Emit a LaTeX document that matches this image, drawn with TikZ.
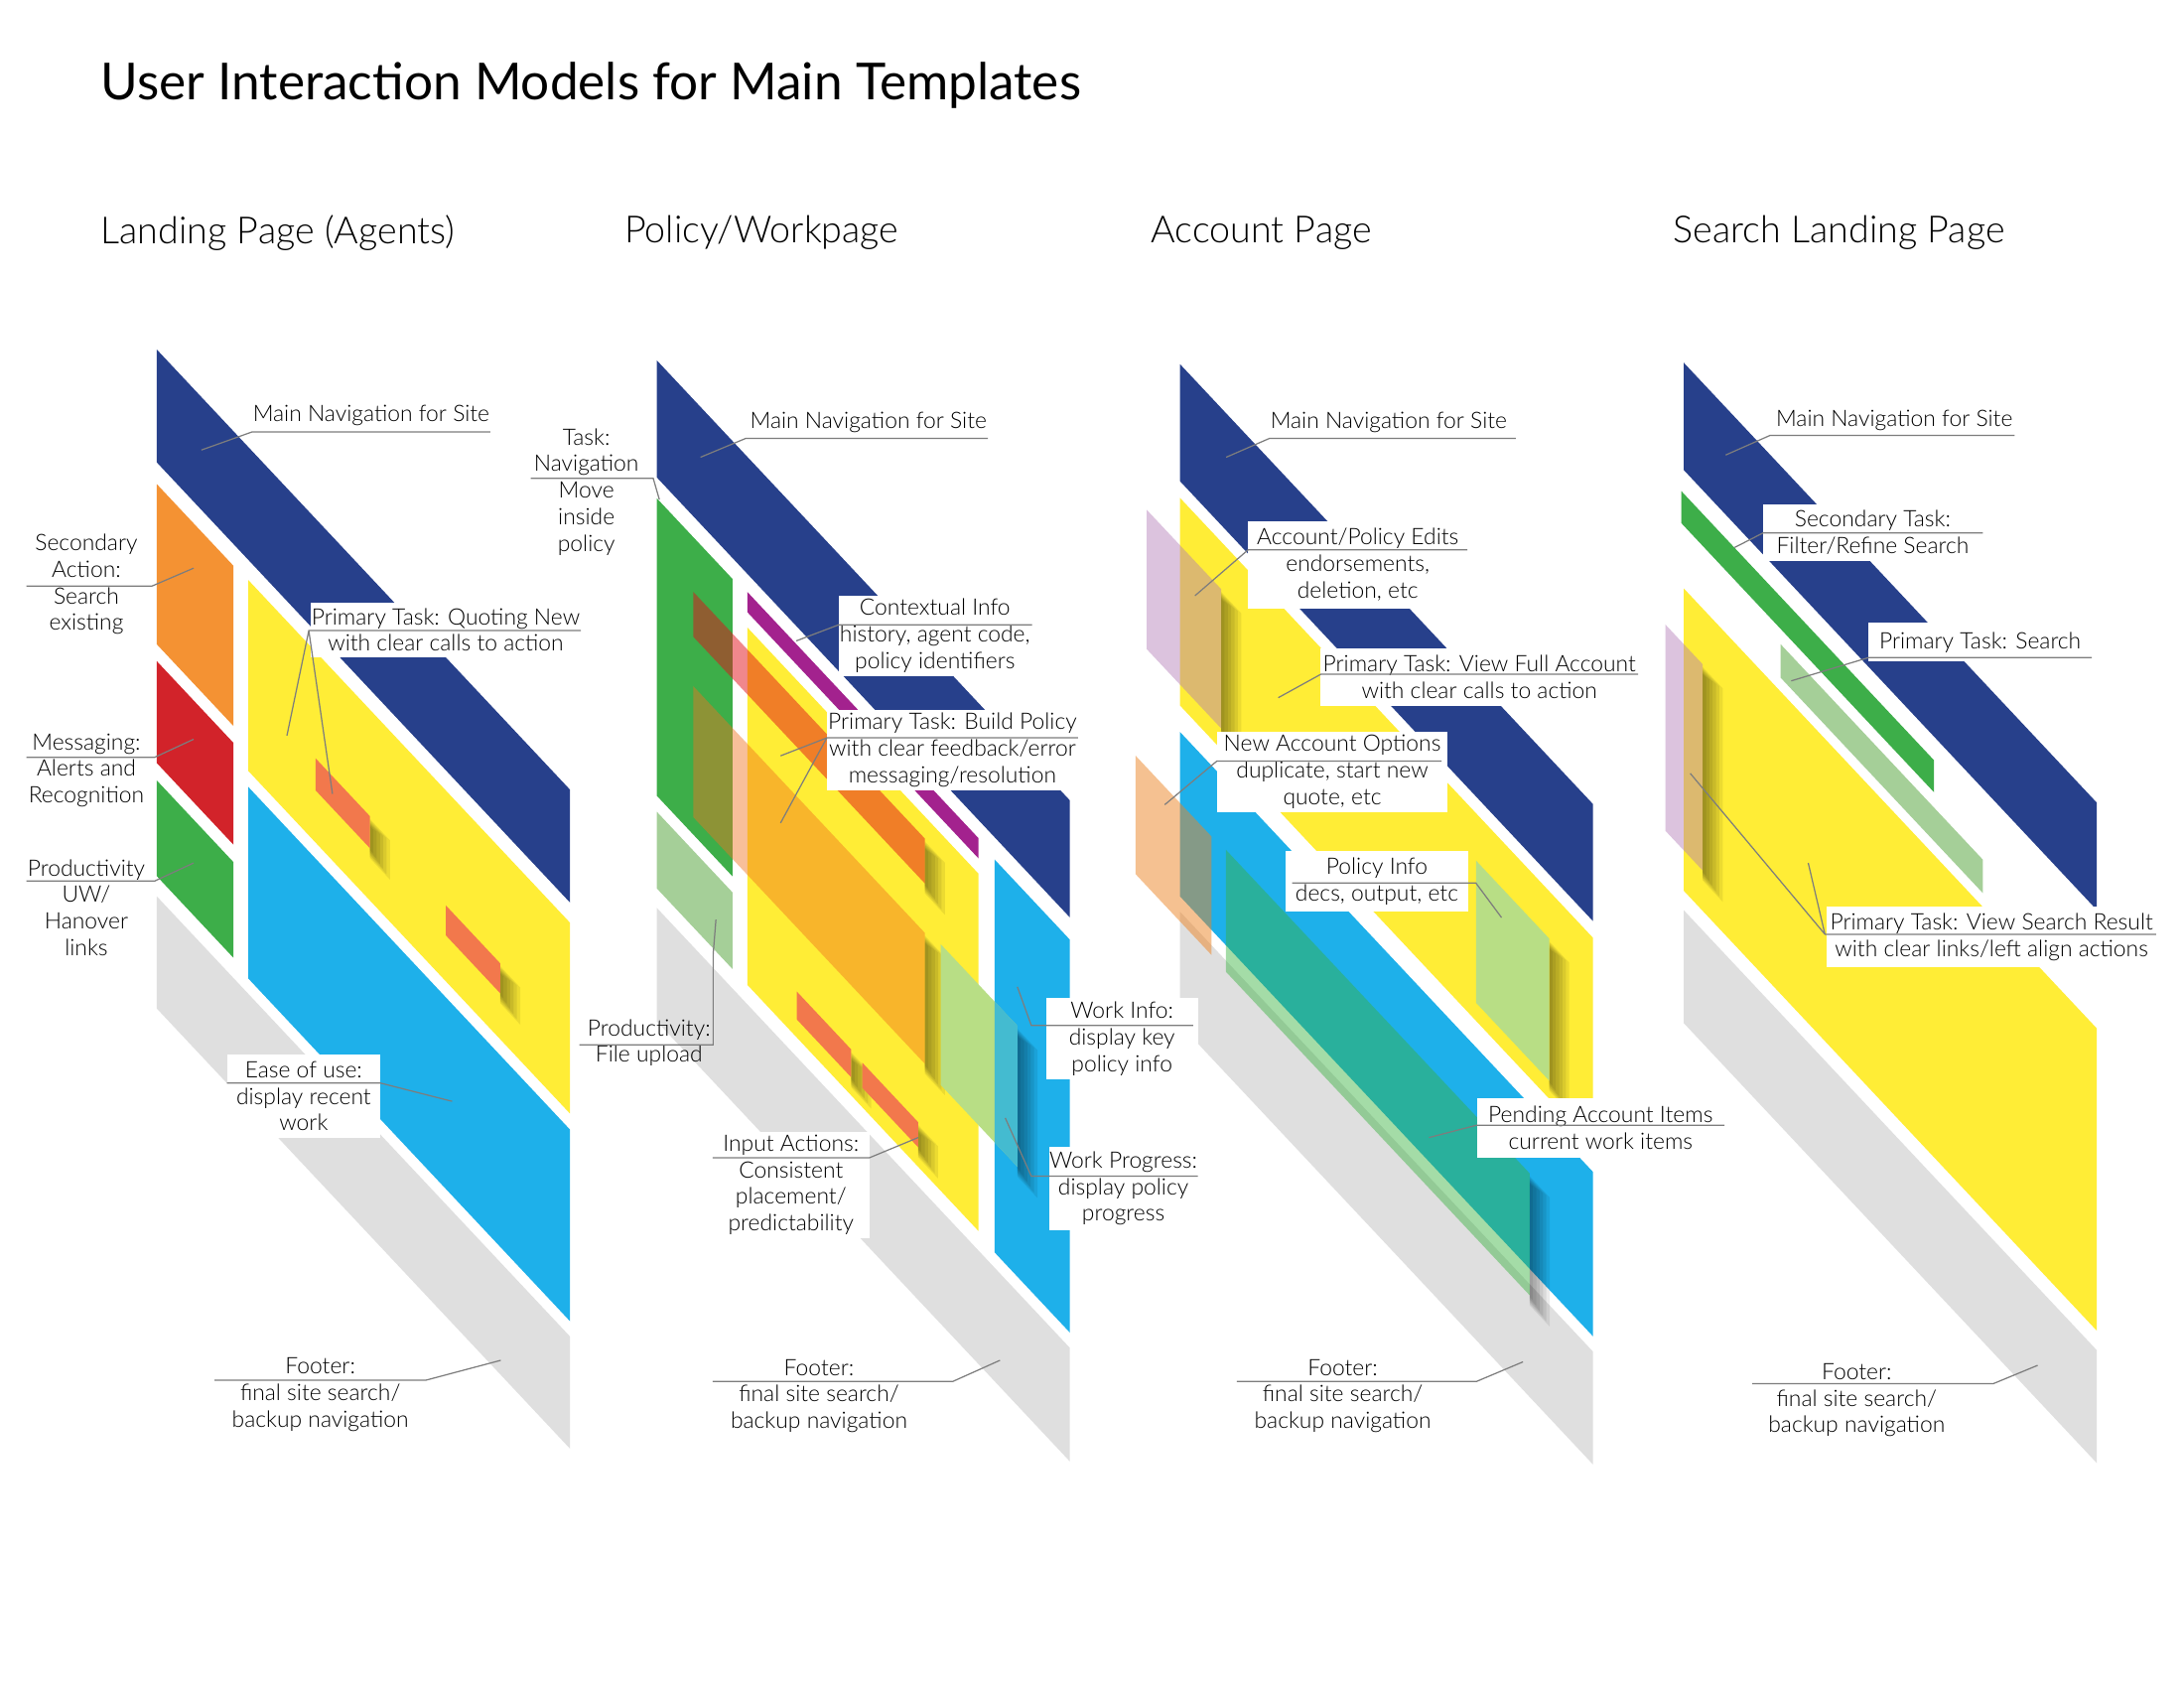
\documentclass[tikz,border=0pt]{standalone}
\usepackage{fontspec}
\setmainfont{Lato}
\IfFontExistsTF{Lato Light}{\newfontfamily\lightfont{Lato Light}}{\newfontfamily\lightfont{Lato}}

\definecolor{navblue}{RGB}{39,64,139}
\definecolor{orng}{RGB}{244,146,51}
\definecolor{redc}{RGB}{210,35,42}
\definecolor{grn}{RGB}{61,174,73}
\definecolor{ylw}{RGB}{255,237,54}
\definecolor{lblue}{RGB}{30,176,234}
\definecolor{gry}{RGB}{223,223,223}
\definecolor{salmon}{RGB}{242,120,76}
\definecolor{purp}{RGB}{163,34,142}
\definecolor{lgrn}{RGB}{165,207,152}
\definecolor{pgrn}{RGB}{184,222,133}
\definecolor{pinkc}{RGB}{178,122,182}
\definecolor{ovred}{RGB}{226,16,26}
\definecolor{ovorange}{RGB}{240,115,31}
\definecolor{peach}{RGB}{237,133,37}
\definecolor{tealg}{RGB}{55,178,62}
\definecolor{leadgray}{RGB}{125,125,125}

\def\pxu{0.01403cm}

\tikzstyle{lbl}=[align=center, inner sep=0pt, font=\lightfont\fontsize{6.5}{7.6}\selectfont]
\tikzstyle{box}=[lbl, fill=white]
\tikzstyle{lead}=[draw=leadgray, line width=0.35pt]
\tikzstyle{dropstep}=[black, fill opacity=.075]
\tikzstyle{pagetitle}=[anchor=west, inner sep=0pt, font=\lightfont\fontsize{10.7}{12}\selectfont]

% soft shadow on the right edge of a block: edge, top, bottom
\newcommand{\softdrop}[3]{%
  \foreach \k in {1,...,6}{\fill[dropstep] (#1,#2+8-\k) rectangle (#1+2.4*\k,#3+1.2*\k);}}

\begin{document}
\begin{tikzpicture}[x={(\pxu,0)}, y={(0,-\pxu)}]
  \useasboundingbox[fill=white] (0,0) rectangle (1568,1212);

  \node[anchor=west, inner sep=0pt, font=\fontsize{14.6}{18}\selectfont] (ttl) at (72,61) {User Interaction Models for Main Templates};
  \node[pagetitle] (pg1) at (72,167) {Landing Page (Agents)};
  \node[pagetitle] (pg2) at (448,167) {Policy/Workpage};
  \node[pagetitle] (pg3) at (826,167) {Account Page};
  \node[pagetitle] (pg4) at (1201,167) {Search Landing Page};

  % landing page
  \begin{scope}[shift={(112.6,250.9)}, yslant=-1.065]
    \fill[navblue] (0,0) rectangle (296.6,81);
    \fill[orng] (0,96.6) rectangle (55,211.6);
    \fill[redc] (0,223.7) rectangle (55,296.8);
    \fill[grn] (0,309.3) rectangle (55,378);
    \fill[gry] (0,392.5) rectangle (296.6,473);
    \fill[ylw] (65.6,95.5) rectangle (296.6,232.5);
    \fill[lblue] (65.6,244) rectangle (296.6,381.5);
    \softdrop{153}{172}{195}
    \softdrop{246.5}{178}{199.5}
    \fill[salmon] (114,172) rectangle (153,195);
    \fill[salmon] (207.5,178) rectangle (246.5,199.5);
  \end{scope}

  % policy / workpage
  \begin{scope}[shift={(471.6,258.7)}, yslant=-1.065]
    \fill[navblue] (0,0) rectangle (296.5,84);
    \fill[grn] (0,99) rectangle (54.3,312.5);
    \fill[lgrn] (0,324) rectangle (54.3,379);
    \fill[gry] (0,393) rectangle (296.5,474.5);
    \fill[purp] (65,97) rectangle (230.8,111.5);
    \fill[ylw] (65,122.5) rectangle (230.8,379);
    \fill[lblue] (242.5,100) rectangle (296.5,382);
    \softdrop{192.4}{138.3}{170.5}
    \softdrop{192.4}{206}{300}
    \fill[ovred, fill opacity=.5] (26.1,138.3) rectangle (192.4,170.5);
    \fill[ovorange, fill opacity=.45] (26.1,206) rectangle (192.4,300);
    \softdrop{258.8}{202}{303}
    \fill[pgrn] (203.8,202) rectangle (258.8,303);
    \fill[lblue, fill opacity=.75] (242.5,202) rectangle (258.8,303);
    \softdrop{139.5}{346}{366}
    \softdrop{187.5}{347}{365}
    \fill[salmon] (100.5,346) rectangle (139.5,366);
    \fill[salmon] (147.5,347) rectangle (187.5,365);
  \end{scope}

  % account page
  \begin{scope}[shift={(847.2,261.4)}, yslant=-1.065]
    \fill[navblue] (0,0) rectangle (296.5,84);
    \fill[ylw] (0,96) rectangle (296.5,245);
    \fill[lblue] (0,264) rectangle (296.5,382);
    \fill[gry] (0,393) rectangle (296.5,474);
    \softdrop{265}{130}{232}
    \fill[pgrn] (212.5,130) rectangle (265,232);
    \softdrop{29.5}{130}{230}
    \fill[pinkc, fill opacity=.45] (-24,130) rectangle (29.5,230);
    \softdrop{251}{313.5}{401}
    \fill[tealg, fill opacity=.45] (33,313.5) rectangle (251,401);
    \fill[peach, fill opacity=.5] (-32,315) rectangle (22.5,400);
  \end{scope}

  % search landing page
  \begin{scope}[shift={(1208.8,260.3)}, yslant=-1.065]
    \fill[navblue] (0,0) rectangle (296.6,77);
    \fill[grn] (-1.7,94) rectangle (179.6,117);
    \fill[lgrn] (69.6,128) rectangle (214.7,152);
    \fill[ylw] (0,162) rectangle (296.6,379);
    \fill[gry] (0,393) rectangle (296.6,474);
    \softdrop{13.6}{202}{350}
    \fill[pinkc, fill opacity=.45] (-13.2,202) rectangle (13.6,350);
  \end{scope}

  % labels, landing page
  \node[lbl] (nav1) at (266.5,298.5) {Main Navigation for Site};
  \coordinate (nav1r) at (352,310);
  \coordinate (nav1l) at (181,310);
  \coordinate (nav1t) at (144.6,323);
  \draw[lead] (nav1r) -- (nav1l) -- (nav1t);

  \node[lbl] (sec1) at (62,419.5) {Secondary\\Action:\\Search\\existing};
  \coordinate (sec1l) at (19,420.7);
  \coordinate (sec1r) at (109,420.7);
  \coordinate (sec1t) at (139,407.8);
  \draw[lead] (sec1l) -- (sec1r) -- (sec1t);

  \node[lbl] (msg1) at (62,553) {Messaging:\\Alerts and\\Recognition};
  \coordinate (msg1l) at (19,543.6);
  \coordinate (msg1r) at (111,543.6);
  \coordinate (msg1t) at (139,530.6);
  \draw[lead] (msg1l) -- (msg1r) -- (msg1t);

  \node[lbl] (prd1) at (62,651.5) {Productivity\\UW/\\Hanover\\links};
  \coordinate (prd1l) at (19,632.4);
  \coordinate (prd1r) at (111,632.4);
  \coordinate (prd1t) at (139,619.4);
  \draw[lead] (prd1l) -- (prd1r) -- (prd1t);

  \node[box, minimum width=194*\pxu, minimum height=39*\pxu] (qt1) at (320,452) {Primary Task: Quoting New\\with clear calls to action};
  \coordinate (qt1l) at (221.7,452.6);
  \coordinate (qt1r) at (417,452.6);
  \coordinate (qt1a) at (206,528);
  \coordinate (qt1b) at (238.7,569.8);
  \draw[lead] (qt1r) -- (qt1l) -- (qt1a) (qt1l) -- (qt1b);

  \node[box, minimum width=110*\pxu, minimum height=59.5*\pxu] (eou1) at (218,786.8) {Ease of use:\\display recent\\work};
  \coordinate (eou1l) at (163,777.3);
  \coordinate (eou1r) at (272.8,777.3);
  \coordinate (eou1t) at (324.6,790.5);
  \draw[lead] (eou1l) -- (eou1r) -- (eou1t);

  \node[lbl] (ftr1) at (230,1001) {Footer:\\final site search/\\backup navigation};
  \coordinate (ftr1l) at (154,990.6);
  \coordinate (ftr1r) at (306,990.6);
  \coordinate (ftr1t) at (359.5,976.4);
  \draw[lead] (ftr1l) -- (ftr1r) -- (ftr1t);

  % labels, policy / workpage
  \node[lbl] (tsk2) at (421,353) {Task:\\Navigation\\Move\\inside\\policy};
  \coordinate (tsk2l) at (381,343.4);
  \coordinate (tsk2r) at (469,343.4);
  \coordinate (tsk2t) at (473.4,358.6);
  \draw[lead] (tsk2l) -- (tsk2r) -- (tsk2t);

  \node[lbl] (nav2) at (623.5,303.5) {Main Navigation for Site};
  \coordinate (nav2r) at (709.2,314.7);
  \coordinate (nav2l) at (535.3,314.7);
  \coordinate (nav2t) at (502.9,328.2);
  \draw[lead] (nav2r) -- (nav2l) -- (nav2t);

  \node[box, minimum width=138.4*\pxu, minimum height=57.3*\pxu] (ctx2) at (671.2,456.4) {Contextual Info\\history, agent code,\\policy identifiers};
  \coordinate (ctx2l) at (602,448.5);
  \coordinate (ctx2r) at (741,448.5);
  \coordinate (ctx2t) at (571.7,460);
  \draw[lead] (ctx2r) -- (ctx2l) -- (ctx2t);

  \node[box, minimum width=180.4*\pxu, minimum height=57.4*\pxu] (bp2) at (683.8,538.3) {Primary Task: Build Policy\\with clear feedback/error\\messaging/resolution};
  \coordinate (bp2l) at (593.6,529.6);
  \coordinate (bp2r) at (774,529.6);
  \coordinate (bp2a) at (560.4,542.5);
  \coordinate (bp2b) at (560.4,590.7);
  \draw[lead] (bp2r) -- (bp2l) -- (bp2a) (bp2l) -- (bp2b);

  \node[lbl] (fu2) at (466,748.5) {Productivity:\\File upload};
  \coordinate (fu2l) at (416,750);
  \coordinate (fu2r) at (512,750);
  \coordinate (fu2m) at (512,685);
  \coordinate (fu2t) at (514,660);
  \draw[lead] (fu2l) -- (fu2r) -- (fu2m) -- (fu2t);

  \node[box, minimum width=112.6*\pxu, minimum height=76.5*\pxu] (ia2) at (567.9,850.5) {Input Actions:\\Consistent\\placement/\\predictability};
  \coordinate (ia2l) at (511.6,831);
  \coordinate (ia2r) at (624.2,831);
  \coordinate (ia2t) at (659.2,816.5);
  \draw[lead] (ia2l) -- (ia2r) -- (ia2t);

  \node[box, minimum width=108.9*\pxu, minimum height=59*\pxu] (wi2) at (805.5,745.5) {Work Info:\\display key\\policy info};
  \coordinate (wi2l) at (740.4,736);
  \coordinate (wi2r) at (856.6,736);
  \coordinate (wi2t) at (730.4,708.3);
  \draw[lead] (wi2r) -- (wi2l) -- (wi2t);

  \node[box, minimum width=106.9*\pxu, minimum height=60*\pxu] (wp2) at (806.5,853) {Work Progress:\\display policy\\progress};
  \coordinate (wp2l) at (740.4,844.2);
  \coordinate (wp2r) at (859.9,844.2);
  \coordinate (wp2t) at (721.7,802.4);
  \draw[lead] (wp2r) -- (wp2l) -- (wp2t);

  \node[lbl] (ftr2) at (588,1002) {Footer:\\final site search/\\backup navigation};
  \coordinate (ftr2l) at (511.6,991.5);
  \coordinate (ftr2r) at (684.2,991.5);
  \coordinate (ftr2t) at (717.9,976.4);
  \draw[lead] (ftr2l) -- (ftr2r) -- (ftr2t);

  % labels, account page
  \node[lbl] (nav3) at (997,303.5) {Main Navigation for Site};
  \coordinate (nav3r) at (1088.2,314.7);
  \coordinate (nav3l) at (911.3,314.7);
  \coordinate (nav3t) at (880.3,328.2);
  \draw[lead] (nav3r) -- (nav3l) -- (nav3t);

  \node[box, minimum width=157.5*\pxu, minimum height=62.7*\pxu] (ape3) at (974.8,405.2) {Account/Policy Edits\\endorsements,\\deletion, etc};
  \coordinate (ape3l) at (896,394.7);
  \coordinate (ape3r) at (1053.5,394.7);
  \coordinate (ape3t) at (857.9,427.6);
  \draw[lead] (ape3r) -- (ape3l) -- (ape3t);

  \node[box, minimum width=227.8*\pxu, minimum height=41.8*\pxu] (vfa3) at (1062.1,486.1) {Primary Task: View Full Account\\with clear calls to action};
  \coordinate (vfa3l) at (948.2,484);
  \coordinate (vfa3r) at (1176,484);
  \coordinate (vfa3t) at (917.7,500.8);
  \draw[lead] (vfa3r) -- (vfa3l) -- (vfa3t);

  \node[box, minimum width=165.7*\pxu, minimum height=57.5*\pxu] (nao3) at (956.5,554) {New Account Options\\duplicate, start new\\quote, etc};
  \coordinate (nao3l) at (873.6,546.3);
  \coordinate (nao3r) at (1035,546.3);
  \coordinate (nao3t) at (836.2,577.6);
  \draw[lead] (nao3r) -- (nao3l) -- (nao3t);

  \node[box, minimum width=131.6*\pxu, minimum height=44*\pxu] (pi3) at (988.5,632.5) {Policy Info\\decs, output, etc};
  \coordinate (pi3l) at (927.7,633.8);
  \coordinate (pi3r) at (1059.6,633.8);
  \coordinate (pi3t) at (1078,658.6);
  \draw[lead] (pi3l) -- (pi3r) -- (pi3t);

  \node[box, minimum width=177.8*\pxu, minimum height=42.7*\pxu] (pai3) at (1149.1,809.6) {Pending Account Items\\current work items};
  \coordinate (pai3l) at (1060.2,807.6);
  \coordinate (pai3r) at (1238,807.6);
  \coordinate (pai3t) at (1025.9,816.5);
  \draw[lead] (pai3r) -- (pai3l) -- (pai3t);

  \node[lbl] (ftr3) at (964,1002) {Footer:\\final site search/\\backup navigation};
  \coordinate (ftr3l) at (887.9,991.5);
  \coordinate (ftr3r) at (1060.2,991.5);
  \coordinate (ftr3t) at (1093.4,977.5);
  \draw[lead] (ftr3l) -- (ftr3r) -- (ftr3t);

  % labels, search landing page
  \node[lbl] (nav4) at (1360,301.5) {Main Navigation for Site};
  \coordinate (nav4r) at (1446.4,312.5);
  \coordinate (nav4l) at (1270.8,312.5);
  \coordinate (nav4t) at (1238.9,326.6);
  \draw[lead] (nav4r) -- (nav4l) -- (nav4t);

  \node[box, minimum width=157.9*\pxu, minimum height=40.8*\pxu] (sts4) at (1344.5,382.1) {Secondary Task:\\Filter/Refine Search};
  \coordinate (sts4l) at (1265.6,382.6);
  \coordinate (sts4r) at (1423.5,382.6);
  \coordinate (sts4t) at (1245.3,393);
  \draw[lead] (sts4r) -- (sts4l) -- (sts4t);

  \node[box, minimum width=160.3*\pxu, minimum height=28*\pxu] (pts4) at (1421.6,461) {Primary Task: Search};
  \coordinate (pts4l) at (1341.5,472);
  \coordinate (pts4r) at (1501.8,472);
  \coordinate (pts4t) at (1286,488.7);
  \draw[lead] (pts4r) -- (pts4l) -- (pts4t);

  \node[box, minimum width=236.5*\pxu, minimum height=43.6*\pxu] (vsr4) at (1429.8,672.5) {Primary Task: View Search Result\\with clear links/left align actions};
  \coordinate (vsr4l) at (1310.2,670.6);
  \coordinate (vsr4r) at (1548,670.6);
  \coordinate (vsr4a) at (1213.5,555.1);
  \coordinate (vsr4b) at (1298.2,619.4);
  \draw[lead] (vsr4r) -- (vsr4l) -- (vsr4a) (vsr4l) -- (vsr4b);

  \node[lbl] (ftr4) at (1333,1005) {Footer:\\final site search/\\backup navigation};
  \coordinate (ftr4l) at (1258,993.1);
  \coordinate (ftr4r) at (1431.2,993.1);
  \coordinate (ftr4t) at (1462.9,980);
  \draw[lead] (ftr4l) -- (ftr4r) -- (ftr4t);
\end{tikzpicture}
\end{document}
